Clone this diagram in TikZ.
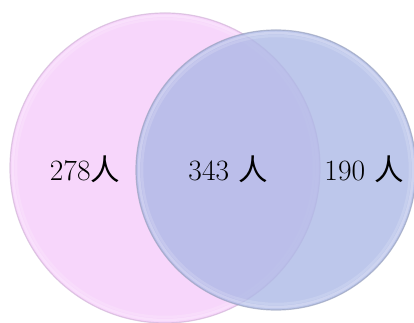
\documentclass[tikz,border=0pt]{standalone}
\usepackage{fontspec}
\newfontfamily\cjk{Noto Sans CJK SC}
\definecolor{setpink}{HTML}{F7D6FB}
\definecolor{setblue}{HTML}{ADB9E6}
\definecolor{rimpink}{HTML}{D2B4D8}
\definecolor{rimblue}{HTML}{99A2BE}
\begin{document}
\begin{tikzpicture}[x=1pt,y=1pt,
    count/.style={font=\fontsize{29.5}{33}\selectfont, inner sep=0pt},
    rim/.style={draw=#1, line width=1.2pt, draw opacity=0.7}]
    \useasboundingbox (0,0) rectangle (414,323);
    % left set
    \fill[setpink] (165,155) circle (155);
    \foreach \r/\o in {152/0.25,149/0.15}
        \draw[white, line width=2.5pt, opacity=\o] (165,155) circle (\r);
    \draw[rim=rimpink] (165,155) circle (155);

    % right set, see-through
    \fill[setblue, fill opacity=0.8] (276,153) circle (140);
    \foreach \r/\o in {137/0.25,134/0.15}
        \draw[white, line width=2.5pt, opacity=\o] (276,153) circle (\r);
    \draw[rim=rimblue] (276,153) circle (140);

    \node[count] (onlyA) at (85,154) {278{\cjk 人}};
    \node[count] (both) at (228,154) {343 {\cjk 人}};
    \node[count] (onlyB) at (364,154) {190 {\cjk 人}};
\end{tikzpicture}
\end{document}
